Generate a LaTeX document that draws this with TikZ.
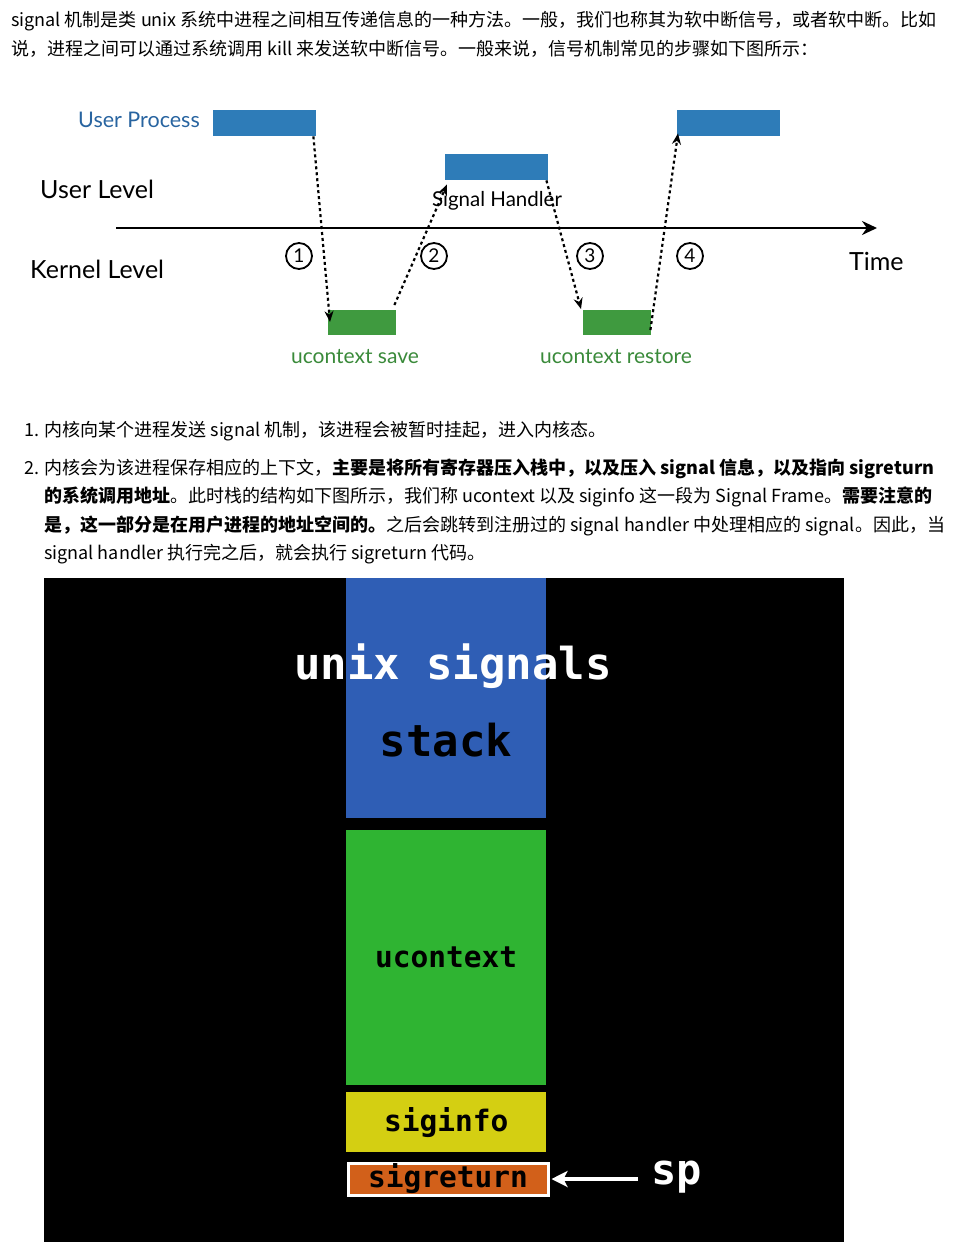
\documentclass[tikz,border=0pt]{standalone}
\usepackage{fontspec}
\usetikzlibrary{arrows.meta,positioning}
\setmainfont{Lato}
\newfontfamily\cjk{Noto Sans CJK SC}
\newfontfamily\gill{Lato}
\newfontfamily\monob{DejaVu Sans Mono}
\definecolor{userblue}{RGB}{46,124,184}
\definecolor{procblue}{RGB}{40,100,160}
\definecolor{kgreen}{RGB}{63,154,63}
\definecolor{savegreen}{RGB}{58,138,58}
\definecolor{stackblue}{RGB}{47,94,181}
\definecolor{ctxgreen}{RGB}{47,180,50}
\definecolor{infoyellow}{RGB}{212,207,18}
\definecolor{retorange}{RGB}{210,96,26}
\tikzstyle{para} = [anchor=west,inner sep=0,font=\cjk\fontsize{18}{20}\selectfont]
\tikzstyle{ublock} = [rectangle,fill=userblue,minimum width=103,minimum height=26,inner sep=0,anchor=north west]
\tikzstyle{kblock} = [rectangle,fill=kgreen,minimum width=68,minimum height=25,inner sep=0,anchor=north west]
\tikzstyle{gilltxt} = [inner sep=0,font=\gill\fontsize{25}{26}\selectfont]
\tikzstyle{numc} = [circle,draw=black,line width=1.8,minimum size=26,inner sep=0,font=\gill\fontsize{19}{19}\selectfont]
\tikzstyle{callarrow} = [line width=2.2,dash pattern=on 3pt off 3pt,-{Stealth[length=11pt,width=9pt]}]
\tikzstyle{stackblk} = [rectangle,minimum width=200,inner sep=0,anchor=north west,font=\monob\bfseries\fontsize{29.5}{30}\selectfont]
\tikzstyle{bigmono} = [inner sep=0,font=\monob\bfseries\fontsize{44}{46}\selectfont]

\begin{document}
\begin{tikzpicture}[x=1pt,y=-1pt]
\useasboundingbox (0,0) rectangle (971,1250);

% intro text
\node[para] (intro1) at (11,21) {signal 机制是类 unix 系统中进程之间相互传递信息的一种方法。一般，我们也称其为软中断信号，或者软中断。比如};
\node[para] (intro2) at (11,49) {说，进程之间可以通过系统调用 kill 来发送软中断信号。一般来说，信号机制常见的步骤如下图所示：};

% timeline
\node[gilltxt,text=procblue,anchor=east,font=\gill\fontsize{21.5}{22}\selectfont] (uplabel) at (200,120) {User Process};
\node[ublock] (up1) at (213,110) {};
\node[ublock] (handler) at (445,154) {};
\node[ublock] (up2) at (677,110) {};
\node[kblock] (save) at (328,310) {};
\node[kblock] (restore) at (583,310) {};
\node[gilltxt,anchor=west] (ulevel) at (40,189) {User Level};
\node[gilltxt,anchor=west] (klevel) at (30,269) {Kernel Level};
\node[gilltxt,font=\gill\fontsize{20.5}{21}\selectfont] (hlabel) at (497,201) {Signal Handler};
\node[gilltxt,anchor=west] (time) at (849,261) {Time};
\node[gilltxt,text=savegreen,font=\gill\fontsize{21}{22}\selectfont] (savelabel) at (355,357) {ucontext save};
\node[gilltxt,text=savegreen,font=\gill\fontsize{21}{22}\selectfont] (restorelabel) at (616,357) {ucontext restore};
\coordinate (t0) at (116,228);
\coordinate (t1) at (877,228);
\node[numc] (n1) at (299,256) {1};
\node[numc] (n2) at (434,256) {2};
\node[numc] (n3) at (590,256) {3};
\node[numc] (n4) at (690,256) {4};

\draw [line width=2.8,-{Stealth[length=15pt,width=14pt]}] (t0) -- (t1);
\draw [callarrow] ([xshift=-3]up1.south east) -- ([xshift=2,yshift=-12]save.north west);
\draw [callarrow] ([xshift=-2,yshift=5]save.north east) -- ([xshift=2,yshift=-4]handler.south west);
\draw [callarrow] ([xshift=-2]handler.south east) -- ([xshift=-2,yshift=1]restore.north west);
\draw [callarrow] ([xshift=-1,yshift=-20]restore.north east) -- ([xshift=1,yshift=3]up2.south west);

% steps
\node[para] (step1) at (24,431) {1. 内核向某个进程发送 signal 机制，该进程会被暂时挂起，进入内核态。};
\node[para] (step2a) at (24,469) {2. 内核会为该进程保存相应的上下文，\textbf{主要是将所有寄存器压入栈中，以及压入 signal 信息，以及指向 sigreturn}};
\node[para] (step2b) at (44,497) {\textbf{的系统调用地址}。此时栈的结构如下图所示，我们称 ucontext 以及 siginfo 这一段为 Signal Frame。\textbf{需要注意的}};
\node[para] (step2c) at (44,526) {\textbf{是，这一部分是在用户进程的地址空间的。}之后会跳转到注册过的 signal handler 中处理相应的 signal。因此，当};
\node[para] (step2d) at (44,554) {signal handler 执行完之后，就会执行 sigreturn 代码。};

% stack frame
\node[rectangle,fill=black,minimum width=800,minimum height=664,inner sep=0,anchor=north west] (frame) at (44,578) {};
\node[stackblk,fill=stackblue,minimum height=240] (stk) at (346,578) {};
\node[bigmono,text=white] (title) at (453,666) {unix signals};
\node[bigmono,text=black] (stklabel) at (446,740) {stack};
\node[stackblk,fill=ctxgreen,minimum height=255] (ctx) at (346,830) {ucontext};
\node[stackblk,fill=infoyellow,minimum height=60] (info) at (346,1092) {siginfo};
\node[stackblk,fill=retorange,draw=white,line width=3,minimum width=200,minimum height=32] (ret) at (346.5,1161.5) {sigreturn};
\node[bigmono,text=white,font=\monob\bfseries\fontsize{42}{44}\selectfont,anchor=west,inner sep=0] (sp) at (651,1177) {sp};

\draw [white,line width=4,-{Stealth[length=16pt,width=16pt,inset=4pt]}] ([xshift=-13]sp.west |- ret.east) -- ([xshift=2]ret.east);

\end{tikzpicture}
\end{document}
